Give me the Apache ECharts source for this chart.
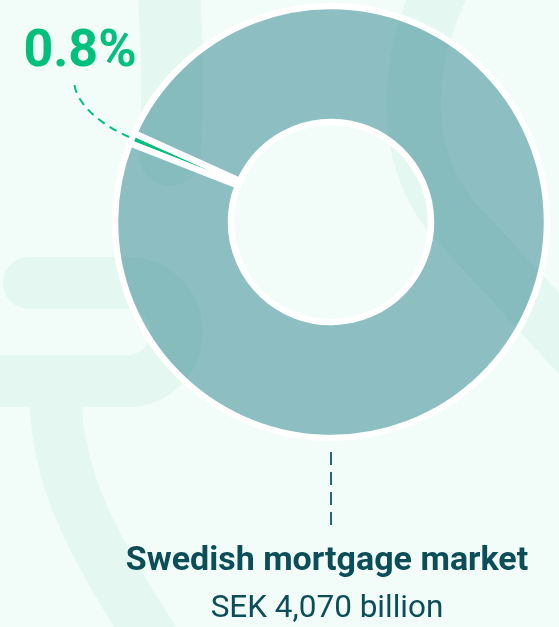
<!DOCTYPE html>
<html>
<head>
<meta charset="utf-8">
<script src="https://cdn.jsdelivr.net/npm/echarts@6/dist/echarts.min.js"></script>
<style>
  html, body { margin: 0; padding: 0; background: #f2fcf9; }
  #main { width: 559px; height: 627px; }
</style>
</head>
<body>
<div id="main"></div>
<script>
  // data
  var sliceNames = ['Share', 'Rest of market'];
  var sliceValues = [0.8, 99.2];
  var marketTitle = 'Swedish mortgage market';
  var marketSize = 'SEK 4,070 billion';

  var sliceColors = ['#00c07c', 'rgba(40,130,139,0.5)'];
  var textDark = '#0b4e58';

  // donut geometry
  var cx = 331, cy = 222, rIn = 100, rOut = 216;
  var startAngle = 158.6;

  var total = sliceValues[0] + sliceValues[1];
  var mid = (startAngle - sliceValues[0] / total * 360 / 2) * Math.PI / 180;
  var dirX = Math.cos(mid), dirY = -Math.sin(mid);

  // dashed guide from the small slice up to its label
  var labelPos = [80, 53];
  var p0 = [cx + (rOut + 3) * dirX, cy + (rOut + 3) * dirY];
  var p1 = [p0[0] + 32 * dirX, p0[1] + 32 * dirY];
  var p3 = [74, 80];
  var p2 = [p3[0], p3[1] + 22];

  var bg = { fill: null, stroke: '#e4f7f1', lineCap: 'round' };
  function bgStyle(w) { return Object.assign({ lineWidth: w }, bg); }

  var myChart = echarts.init(document.getElementById('main'));
  var option = {
    backgroundColor: '#f2fcf9',
    animation: false,
    textStyle: { fontFamily: 'Roboto' },
    graphic: [
      // decorative background shapes
      { type: 'bezierCurve', z: -10, silent: true,
        shape: { x1: 166, y1: -40, cpx1: 176, cpy1: 60, x2: 170, y2: 155 }, style: bgStyle(62) },
      { type: 'bezierCurve', z: -10, silent: true,
        shape: { x1: 445, y1: -20, cpx1: 405, cpy1: 60, cpx2: 400, cpy2: 150, x2: 450, y2: 215 }, style: bgStyle(55) },
      { type: 'line', z: -10, silent: true,
        shape: { x1: 450, y1: 215, x2: 620, y2: 400 }, style: bgStyle(55) },
      { type: 'line', z: -10, silent: true,
        shape: { x1: 29, y1: 283, x2: 128, y2: 283 }, style: bgStyle(52) },
      { type: 'arc', z: -10, silent: true,
        shape: { cx: 128, cy: 332, r: 49, startAngle: -Math.PI / 2, endAngle: Math.PI / 2, clockwise: true }, style: bgStyle(52) },
      { type: 'line', z: -10, silent: true,
        shape: { x1: 128, y1: 381, x2: -40, y2: 381 }, style: bgStyle(52) },
      { type: 'bezierCurve', z: -10, silent: true,
        shape: { x1: 55, y1: 381, cpx1: 55, cpy1: 470, cpx2: 80, cpy2: 530, x2: 170, y2: 665 }, style: bgStyle(52) },
      // guide line for the label
      { type: 'bezierCurve', z: 20, silent: true,
        shape: { x1: p0[0], y1: p0[1], cpx1: p1[0], cpy1: p1[1], cpx2: p2[0], cpy2: p2[1], x2: p3[0], y2: p3[1] },
        style: { fill: null, stroke: '#00c07c', lineWidth: 2, lineDash: [8, 6] } },
      // dashed line under the donut
      { type: 'line', z: 20, silent: true,
        shape: { x1: cx, y1: cy + rOut + 14, x2: cx, y2: cy + rOut + 94 },
        style: { stroke: '#1f6d74', lineWidth: 2, lineDash: [13, 7] } },
      { type: 'text', z: 20, silent: true,
        style: { text: marketTitle, x: 327, y: 561, align: 'center', verticalAlign: 'middle',
                 font: 'bold 34px Roboto', fill: textDark } },
      { type: 'text', z: 20, silent: true,
        style: { text: marketSize, x: 327, y: 609, align: 'center', verticalAlign: 'middle',
                 font: '31.5px Roboto', fill: textDark } }
    ],
    series: [
      {
        type: 'pie',
        silent: true,
        center: [cx, cy],
        radius: [rIn, rOut],
        startAngle: startAngle,
        clockwise: true,
        itemStyle: { borderColor: '#ffffff', borderWidth: 6.5 },
        label: { show: false },
        labelLine: { show: false },
        labelLayout: function (params) {
          if (params.dataIndex === 0) {
            return { x: labelPos[0], y: labelPos[1], align: 'center', verticalAlign: 'middle' };
          }
        },
        data: sliceNames.map(function (n, i) {
          var d = { name: n, value: sliceValues[i], itemStyle: { color: sliceColors[i] } };
          if (i === 0) {
            d.label = {
              show: true,
              position: 'outside',
              overflow: 'none',
              width: 200,
              formatter: function (p) { return p.value + '%'; },
              color: '#00c07c',
              fontSize: 52,
              fontWeight: 'bold',
              fontFamily: 'Roboto'
            };
          }
          return d;
        })
      }
    ]
  };
  myChart.setOption(option);
</script>
</body>
</html>
